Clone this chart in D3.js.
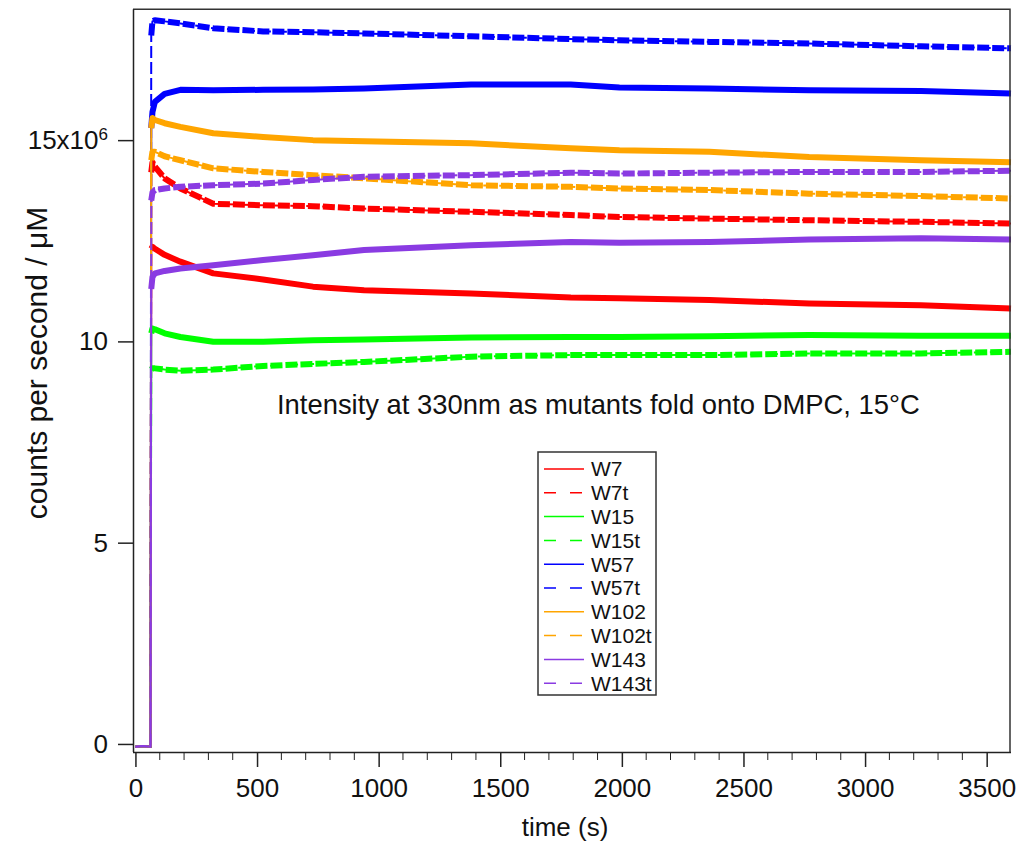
<!DOCTYPE html>
<html>
<head>
<meta charset="utf-8">
<script src="https://cdn.jsdelivr.net/npm/d3@7"></script>
<style>
    body { margin: 0; background: #fff; }
    text { font-family: Arial, "Liberation Sans", sans-serif; fill: #111; }
</style>
</head>
<body>
<svg id="chart" width="1020" height="845"></svg>
<script>

// sample times (s), shared by every trace
var times = [0, 30, 62, 65, 70, 80, 120, 185, 320, 525, 730, 940, 1380, 1790, 1990, 2360, 2770, 3230, 3600];

// counts per second / uM, in millions
var w7    = [-0.07, -0.05, -0.07, 12.3, 12.35, 12.3, 12.15, 11.98, 11.69, 11.54, 11.36, 11.27, 11.19, 11.09, 11.07, 11.03, 10.94, 10.9, 10.82];
var w7t   = [-0.07, -0.05, -0.07, 14.2, 14.45, 14.34, 14.05, 13.8, 13.42, 13.38, 13.36, 13.3, 13.22, 13.14, 13.09, 13.05, 13.01, 12.97, 12.93];
var w15   = [-0.07, -0.05, -0.07, 10.2, 10.32, 10.3, 10.2, 10.11, 9.99, 9.99, 10.03, 10.05, 10.1, 10.11, 10.11, 10.13, 10.16, 10.14, 10.14];
var w15t  = [-0.07, -0.05, -0.07, 9.3, 9.33, 9.33, 9.3, 9.27, 9.3, 9.39, 9.44, 9.49, 9.62, 9.66, 9.66, 9.66, 9.7, 9.7, 9.74];
var w57   = [-0.07, -0.05, -0.07, 15.3, 15.7, 15.95, 16.15, 16.25, 16.24, 16.25, 16.26, 16.28, 16.38, 16.38, 16.31, 16.28, 16.24, 16.22, 16.16];
var w57t  = [-0.07, -0.05, -0.07, 17.6, 17.95, 17.98, 17.95, 17.9, 17.78, 17.7, 17.68, 17.65, 17.58, 17.51, 17.48, 17.44, 17.4, 17.33, 17.28];
var w102  = [-0.07, -0.05, -0.07, 15.3, 15.55, 15.5, 15.42, 15.33, 15.17, 15.08, 15.0, 14.97, 14.92, 14.8, 14.75, 14.71, 14.58, 14.5, 14.45];
var w102t = [-0.07, -0.05, -0.07, 14.5, 14.71, 14.71, 14.6, 14.5, 14.3, 14.21, 14.13, 14.05, 13.88, 13.84, 13.8, 13.76, 13.67, 13.61, 13.55];
var w143  = [-0.07, -0.05, -0.07, 11.3, 11.6, 11.69, 11.75, 11.81, 11.89, 12.02, 12.14, 12.27, 12.39, 12.47, 12.45, 12.47, 12.53, 12.56, 12.53];
var w143t = [-0.07, -0.05, -0.07, 13.5, 13.7, 13.76, 13.8, 13.84, 13.88, 13.92, 14.01, 14.09, 14.13, 14.19, 14.17, 14.19, 14.21, 14.21, 14.24];

var seriesNames  = ["W7", "W7t", "W15", "W15t", "W57", "W57t", "W102", "W102t", "W143", "W143t"];
var seriesValues = [w7, w7t, w15, w15t, w57, w57t, w102, w102t, w143, w143t];
var seriesColors = ["#ff0000", "#ff0000", "#00ff00", "#00ff00", "#0000ff", "#0000ff", "#ffa500", "#ffa500", "#8a3be2", "#8a3be2"];
var seriesDashed = [false, true, false, true, false, true, false, true, false, true];

var xTicks = [0, 500, 1000, 1500, 2000, 2500, 3000, 3500];
var yTicks = [0, 5, 10, 15];

// injection time: before it the traces are flat near zero
var injectTime = 65;

var svg = d3.select("#chart");

var xScale = d3.scaleLinear()
    .domain([-10, 3600])
    .range([133, 1011]);

var yScale = d3.scaleLinear()
    .domain([-0.2, 18.25])
    .range([752, 9.3]);

// plot the traces
var line = d3.line()
    .x(function(d) { return xScale(d[0]); })
    .y(function(d) { return yScale(d[1]); });

var plot = svg.append("g");

seriesValues.forEach(function(vals, i) {
    var pts = times.map(function(t, j) { return [t, vals[j]]; });

    // thin full trace (baseline + jump)
    plot.append("path")
        .datum(pts)
        .attr("d", line)
        .attr("fill", "none")
        .attr("stroke", seriesColors[i])
        .attr("stroke-width", 2)
        .attr("stroke-dasharray", seriesDashed[i] ? "12,4" : null);

    // the noisy plateau reads as a thick band
    plot.append("path")
        .datum(pts.filter(function(d) { return d[0] >= injectTime; }))
        .attr("d", line)
        .attr("fill", "none")
        .attr("stroke", seriesColors[i])
        .attr("stroke-width", 6)
        .attr("stroke-linejoin", "round")
        .attr("stroke-dasharray", seriesDashed[i] ? "12,3" : null);
});

// frame (top and right)
svg.append("path")
    .attr("d", "M133,9.3H1010V752")
    .attr("fill", "none")
    .attr("stroke", "#333")
    .attr("stroke-width", 1.5);

// x axis with minor ticks every 100 s
var xAxis = d3.axisBottom(xScale)
    .tickValues(xTicks)
    .tickSize(15)
    .tickPadding(12)
    .tickFormat(d3.format("d"));

var gx = svg.append("g")
    .attr("transform", "translate(0,752)")
    .call(xAxis);

gx.select(".domain").attr("d", "M133,0.5H1011");

gx.selectAll(".minor")
    .data(d3.range(100, 3600, 100).filter(function(d) { return d % 500 != 0; }))
    .enter()
    .append("line")
    .attr("class", "minor")
    .attr("x1", function(d) { return xScale(d); })
    .attr("x2", function(d) { return xScale(d); })
    .attr("y1", 0)
    .attr("y2", 8)
    .attr("stroke", "#222");

// y axis
var yAxis = d3.axisLeft(yScale)
    .tickValues(yTicks)
    .tickSize(15)
    .tickPadding(10)
    .tickFormat(function(d) { return d == 15 ? "" : d; });

var gy = svg.append("g")
    .attr("transform", "translate(133,0)")
    .call(yAxis);

gy.select(".domain").attr("d", "M0.5,9.3V752");

var top15 = gy.selectAll(".tick")
    .filter(function(d) { return d == 15; })
    .select("text");
top15.append("tspan").text("15x10");
top15.append("tspan")
    .attr("baseline-shift", "super")
    .attr("font-size", "17px")
    .text("6");

svg.selectAll(".domain, .tick line")
    .attr("stroke", "#222")
    .attr("stroke-width", 1.5);

svg.selectAll(".tick text")
    .attr("font-size", "26px")
    .attr("font-family", "Arial, 'Liberation Sans', sans-serif")
    .attr("fill", "#111");

// axis titles
svg.append("text")
    .attr("x", 565)
    .attr("y", 836)
    .attr("text-anchor", "middle")
    .attr("font-size", "26px")
    .text("time (s)");

svg.append("text")
    .attr("transform", "translate(47,363) rotate(-90)")
    .attr("text-anchor", "middle")
    .attr("font-size", "30px")
    .text("counts per second / \u03bcM");

// annotation
svg.append("text")
    .attr("x", 277)
    .attr("y", 414)
    .attr("font-size", "27.4px")
    .text("Intensity at 330nm as mutants fold onto DMPC, 15\u00b0C");

// legend
var legend = svg.append("g")
    .attr("transform", "translate(538,452)");

legend.append("rect")
    .attr("width", 118)
    .attr("height", 243)
    .attr("fill", "#fff")
    .attr("stroke", "#333")
    .attr("stroke-width", 1.5);

seriesNames.forEach(function(name, i) {
    var y = 17 + i * 23.8;
    legend.append("line")
        .attr("x1", 6)
        .attr("x2", 46)
        .attr("y1", y)
        .attr("y2", y)
        .attr("stroke", seriesColors[i])
        .attr("stroke-width", 1.5)
        .attr("stroke-dasharray", seriesDashed[i] ? "12,14" : null);
    legend.append("text")
        .attr("x", 53)
        .attr("y", y)
        .attr("dy", "0.35em")
        .attr("font-size", "21px")
        .text(name);
});

</script>
</body>
</html>
